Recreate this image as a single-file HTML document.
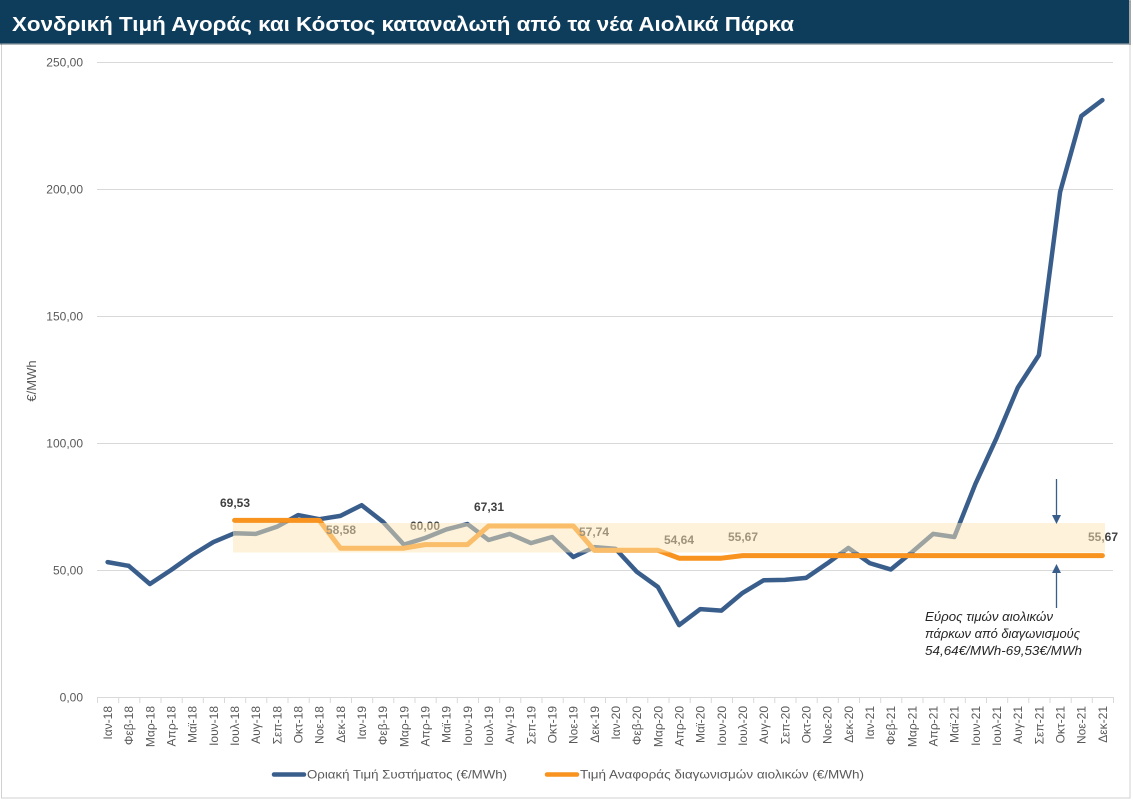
<!DOCTYPE html>
<html>
<head>
<meta charset="utf-8">
<style>
  html, body { margin: 0; padding: 0; background: #ffffff; }
  svg { display: block; }
  text { font-family: "Liberation Sans", "DejaVu Sans", sans-serif; }
</style>
</head>
<body>
<svg width="1133" height="801" viewBox="0 0 1133 801" xmlns="http://www.w3.org/2000/svg">
  <!-- background & border -->
  <rect x="0" y="0" width="1133" height="801" fill="#ffffff"/>
  <rect x="1.5" y="1.5" width="1128.5" height="796.5" fill="none" stroke="#d0d0d0" stroke-width="1"/>

  <!-- title bar -->
  <rect x="0" y="0" width="1131" height="45" fill="#1a2a35" opacity="0.35"/>
  <rect x="0" y="0" width="1129" height="43.5" fill="#0e3c5b"/>
  <text x="12" y="31" font-size="20" font-weight="bold" fill="#ffffff" textLength="782" lengthAdjust="spacingAndGlyphs">Χονδρική Τιμή Αγοράς  και Κόστος καταναλωτή από τα νέα Αιολικά Πάρκα</text>

  <!-- gridlines -->
  <g stroke="#d9d9d9" stroke-width="1">
    <line x1="97" y1="62.5" x2="1113" y2="62.5"/>
    <line x1="97" y1="189.5" x2="1113" y2="189.5"/>
    <line x1="97" y1="316.5" x2="1113" y2="316.5"/>
    <line x1="97" y1="443.5" x2="1113" y2="443.5"/>
    <line x1="97" y1="570.5" x2="1113" y2="570.5"/>
    <line x1="97" y1="697.5" x2="1113" y2="697.5"/>
  </g>

  <!-- tick marks -->
  <g stroke="#d9d9d9" stroke-width="1" id="ticks"></g>

  <!-- y-axis labels -->
  <g font-size="12" fill="#595959" text-anchor="end">
    <text x="83" y="66.5">250,00</text>
    <text x="83" y="193.5">200,00</text>
    <text x="83" y="320.5">150,00</text>
    <text x="83" y="447.5">100,00</text>
    <text x="83" y="574.5">50,00</text>
    <text x="83" y="701.5">0,00</text>
  </g>
  <text transform="translate(36,381) rotate(-90)" font-size="13" fill="#595959" text-anchor="middle">€/MWh</text>

  <!-- x-axis labels -->
  <g font-size="12" fill="#595959" text-anchor="end" id="xlabels"></g>

  <!-- series: market price (blue) -->
  <polyline fill="none" stroke="#3a5e8c" stroke-width="4.5" stroke-linejoin="round" stroke-linecap="round"
    points="107.6,562.1 128.8,565.9 149.9,584.0 171.1,570.0 192.3,555.0 213.4,542.1 234.6,533.2 255.8,533.9 276.9,526.8 298.1,515.1 319.3,519.2 340.4,515.9 361.6,505.2 382.8,521.7 403.9,544.6 425.1,538.0 446.3,529.4 467.4,524.0 488.6,540.0 509.8,533.9 530.9,543.1 552.1,537.0 573.3,557.0 594.4,547.1 615.6,548.9 636.8,571.8 657.9,587.0 679.1,625.1 700.3,609.1 721.4,610.6 742.6,592.9 763.8,580.2 784.9,579.9 806.1,577.9 827.3,563.4 848.4,547.9 869.6,563.1 890.8,569.5 911.9,552.2 933.1,533.9 954.3,537.0 975.4,483.9 996.6,437.9 1017.8,387.6 1038.9,355.1 1060.1,192.0 1081.3,116.1 1102.4,100.1"/>

  <!-- series: reference price (orange) -->
  <polyline fill="none" stroke="#f7931e" stroke-width="5" stroke-linejoin="round" stroke-linecap="round"
    points="234.6,520.4 255.8,520.4 276.9,520.4 298.1,520.4 319.3,520.4 340.4,548.2 361.6,548.2 382.8,548.2 403.9,548.2 425.1,544.6 446.3,544.6 467.4,544.6 488.6,526.0 509.8,526.0 530.9,526.0 552.1,526.0 573.3,526.0 594.4,550.3 615.6,550.3 636.8,550.3 657.9,550.3 679.1,558.2 700.3,558.2 721.4,558.2 742.6,555.6 1102.4,555.6"/>

  <!-- data labels -->
  <g font-size="12" font-weight="bold" fill="#404040" text-anchor="middle">
    <text x="235" y="507">69,53</text>
    <text x="341" y="534">58,58</text>
    <text x="425" y="530">60,00</text>
    <text x="489" y="511">67,31</text>
    <text x="594" y="536">57,74</text>
    <text x="679" y="544">54,64</text>
    <text x="743" y="541">55,67</text>
    <text x="1103" y="541">55,67</text>
  </g>

  <!-- shaded range band (drawn over lines, semi-transparent) -->
  <rect x="233" y="523" width="872" height="29.5" fill="rgb(253,231,181)" opacity="0.5"/>

  <!-- annotation arrows -->
  <g stroke="#3a5e8c" stroke-width="1.3" fill="#3a5e8c">
    <line x1="1056.5" y1="479" x2="1056.5" y2="516"/>
    <polygon points="1052,515 1061,515 1056.5,524" stroke="none"/>
    <line x1="1056.5" y1="572" x2="1056.5" y2="608"/>
    <polygon points="1052,573 1061,573 1056.5,564" stroke="none"/>
  </g>
  <g font-size="13" font-style="italic" fill="#262626">
    <text x="925" y="621" textLength="128" lengthAdjust="spacingAndGlyphs">Εύρος τιμών αιολικών</text>
    <text x="925" y="638" textLength="155" lengthAdjust="spacingAndGlyphs">πάρκων από διαγωνισμούς</text>
    <text x="925" y="655" textLength="157" lengthAdjust="spacingAndGlyphs">54,64€/MWh-69,53€/MWh</text>
  </g>

  <!-- legend -->
  <line x1="274" y1="774.5" x2="304" y2="774.5" stroke="#3a5e8c" stroke-width="4.5" stroke-linecap="round"/>
  <text x="307" y="778.5" font-size="12" fill="#595959" textLength="200" lengthAdjust="spacingAndGlyphs">Οριακή Τιμή Συστήματος (€/MWh)</text>
  <line x1="547" y1="774.5" x2="577" y2="774.5" stroke="#f7931e" stroke-width="4.5" stroke-linecap="round"/>
  <text x="580" y="778.5" font-size="12" fill="#595959" textLength="284" lengthAdjust="spacingAndGlyphs">Τιμή Αναφοράς διαγωνισμών αιολικών (€/MWh)</text>

  <!-- static tick marks and x labels -->
  <g stroke="#d9d9d9" stroke-width="1">
    <line x1="97.5" y1="697" x2="97.5" y2="703"/><line x1="118.7" y1="697" x2="118.7" y2="703"/><line x1="139.8" y1="697" x2="139.8" y2="703"/><line x1="161" y1="697" x2="161" y2="703"/><line x1="182.2" y1="697" x2="182.2" y2="703"/><line x1="203.3" y1="697" x2="203.3" y2="703"/><line x1="224.5" y1="697" x2="224.5" y2="703"/><line x1="245.7" y1="697" x2="245.7" y2="703"/><line x1="266.8" y1="697" x2="266.8" y2="703"/><line x1="288" y1="697" x2="288" y2="703"/><line x1="309.2" y1="697" x2="309.2" y2="703"/><line x1="330.3" y1="697" x2="330.3" y2="703"/><line x1="351.5" y1="697" x2="351.5" y2="703"/><line x1="372.7" y1="697" x2="372.7" y2="703"/><line x1="393.8" y1="697" x2="393.8" y2="703"/><line x1="415" y1="697" x2="415" y2="703"/><line x1="436.2" y1="697" x2="436.2" y2="703"/><line x1="457.3" y1="697" x2="457.3" y2="703"/><line x1="478.5" y1="697" x2="478.5" y2="703"/><line x1="499.7" y1="697" x2="499.7" y2="703"/><line x1="520.8" y1="697" x2="520.8" y2="703"/><line x1="542" y1="697" x2="542" y2="703"/><line x1="563.2" y1="697" x2="563.2" y2="703"/><line x1="584.3" y1="697" x2="584.3" y2="703"/><line x1="605.5" y1="697" x2="605.5" y2="703"/><line x1="626.7" y1="697" x2="626.7" y2="703"/><line x1="647.8" y1="697" x2="647.8" y2="703"/><line x1="669" y1="697" x2="669" y2="703"/><line x1="690.2" y1="697" x2="690.2" y2="703"/><line x1="711.3" y1="697" x2="711.3" y2="703"/><line x1="732.5" y1="697" x2="732.5" y2="703"/><line x1="753.7" y1="697" x2="753.7" y2="703"/><line x1="774.8" y1="697" x2="774.8" y2="703"/><line x1="796" y1="697" x2="796" y2="703"/><line x1="817.2" y1="697" x2="817.2" y2="703"/><line x1="838.3" y1="697" x2="838.3" y2="703"/><line x1="859.5" y1="697" x2="859.5" y2="703"/><line x1="880.7" y1="697" x2="880.7" y2="703"/><line x1="901.8" y1="697" x2="901.8" y2="703"/><line x1="923" y1="697" x2="923" y2="703"/><line x1="944.2" y1="697" x2="944.2" y2="703"/><line x1="965.3" y1="697" x2="965.3" y2="703"/><line x1="986.5" y1="697" x2="986.5" y2="703"/><line x1="1007.7" y1="697" x2="1007.7" y2="703"/><line x1="1028.8" y1="697" x2="1028.8" y2="703"/><line x1="1050" y1="697" x2="1050" y2="703"/><line x1="1071.2" y1="697" x2="1071.2" y2="703"/><line x1="1092.3" y1="697" x2="1092.3" y2="703"/><line x1="1113.5" y1="697" x2="1113.5" y2="703"/>
  </g>
  <g font-size="12" fill="#595959" text-anchor="end">
    <text transform="translate(112,706) rotate(-90)">Ιαν-18</text>
    <text transform="translate(133.2,706) rotate(-90)">Φεβ-18</text>
    <text transform="translate(154.3,706) rotate(-90)">Μαρ-18</text>
    <text transform="translate(175.5,706) rotate(-90)">Απρ-18</text>
    <text transform="translate(196.7,706) rotate(-90)">Μαϊ-18</text>
    <text transform="translate(217.8,706) rotate(-90)">Ιουν-18</text>
    <text transform="translate(239,706) rotate(-90)">Ιουλ-18</text>
    <text transform="translate(260.2,706) rotate(-90)">Αυγ-18</text>
    <text transform="translate(281.3,706) rotate(-90)">Σεπ-18</text>
    <text transform="translate(302.5,706) rotate(-90)">Οκτ-18</text>
    <text transform="translate(323.7,706) rotate(-90)">Νοε-18</text>
    <text transform="translate(344.8,706) rotate(-90)">Δεκ-18</text>
    <text transform="translate(366,706) rotate(-90)">Ιαν-19</text>
    <text transform="translate(387.2,706) rotate(-90)">Φεβ-19</text>
    <text transform="translate(408.3,706) rotate(-90)">Μαρ-19</text>
    <text transform="translate(429.5,706) rotate(-90)">Απρ-19</text>
    <text transform="translate(450.7,706) rotate(-90)">Μαϊ-19</text>
    <text transform="translate(471.8,706) rotate(-90)">Ιουν-19</text>
    <text transform="translate(493,706) rotate(-90)">Ιουλ-19</text>
    <text transform="translate(514.2,706) rotate(-90)">Αυγ-19</text>
    <text transform="translate(535.3,706) rotate(-90)">Σεπ-19</text>
    <text transform="translate(556.5,706) rotate(-90)">Οκτ-19</text>
    <text transform="translate(577.7,706) rotate(-90)">Νοε-19</text>
    <text transform="translate(598.8,706) rotate(-90)">Δεκ-19</text>
    <text transform="translate(620,706) rotate(-90)">Ιαν-20</text>
    <text transform="translate(641.2,706) rotate(-90)">Φεβ-20</text>
    <text transform="translate(662.3,706) rotate(-90)">Μαρ-20</text>
    <text transform="translate(683.5,706) rotate(-90)">Απρ-20</text>
    <text transform="translate(704.7,706) rotate(-90)">Μαϊ-20</text>
    <text transform="translate(725.8,706) rotate(-90)">Ιουν-20</text>
    <text transform="translate(747,706) rotate(-90)">Ιουλ-20</text>
    <text transform="translate(768.2,706) rotate(-90)">Αυγ-20</text>
    <text transform="translate(789.3,706) rotate(-90)">Σεπ-20</text>
    <text transform="translate(810.5,706) rotate(-90)">Οκτ-20</text>
    <text transform="translate(831.7,706) rotate(-90)">Νοε-20</text>
    <text transform="translate(852.8,706) rotate(-90)">Δεκ-20</text>
    <text transform="translate(874,706) rotate(-90)">Ιαν-21</text>
    <text transform="translate(895.2,706) rotate(-90)">Φεβ-21</text>
    <text transform="translate(916.3,706) rotate(-90)">Μαρ-21</text>
    <text transform="translate(937.5,706) rotate(-90)">Απρ-21</text>
    <text transform="translate(958.7,706) rotate(-90)">Μαϊ-21</text>
    <text transform="translate(979.8,706) rotate(-90)">Ιουν-21</text>
    <text transform="translate(1001,706) rotate(-90)">Ιουλ-21</text>
    <text transform="translate(1022.2,706) rotate(-90)">Αυγ-21</text>
    <text transform="translate(1043.3,706) rotate(-90)">Σεπ-21</text>
    <text transform="translate(1064.5,706) rotate(-90)">Οκτ-21</text>
    <text transform="translate(1085.7,706) rotate(-90)">Νοε-21</text>
    <text transform="translate(1106.8,706) rotate(-90)">Δεκ-21</text>
  </g>
</svg>
</body>
</html>
